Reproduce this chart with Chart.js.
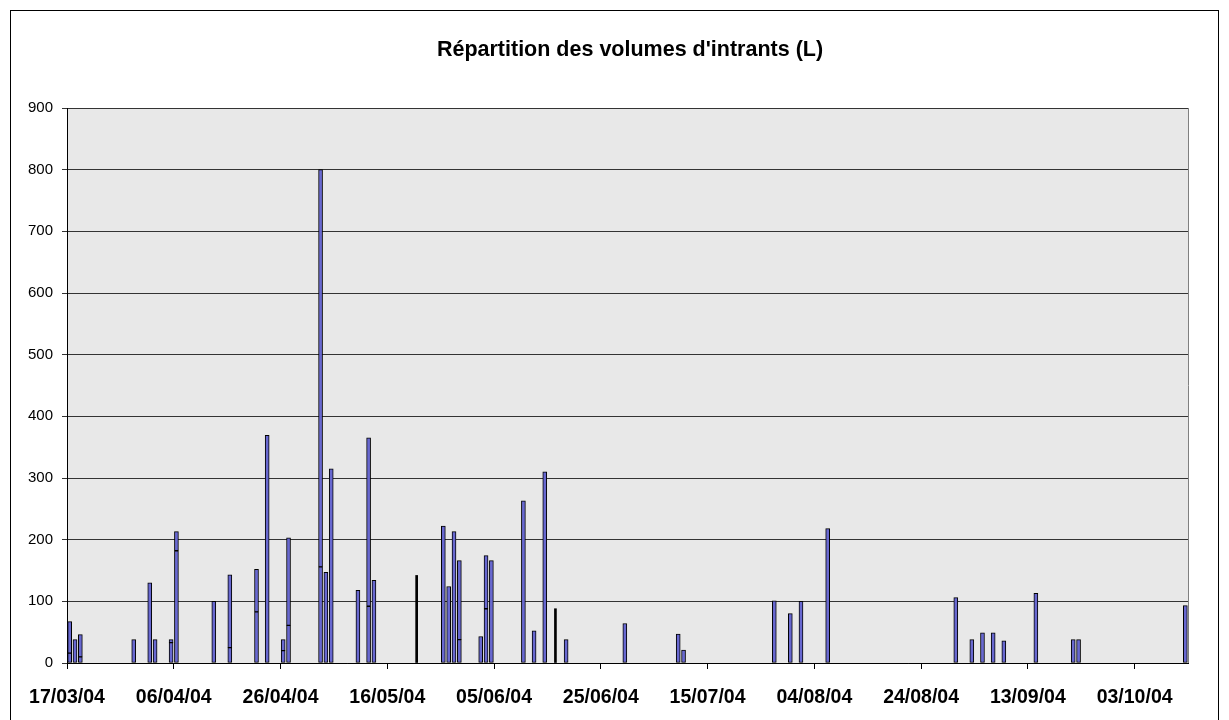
<!DOCTYPE html>
<html>
<head>
<meta charset="utf-8">
<script src="https://cdn.jsdelivr.net/npm/chart.js@4/dist/chart.umd.min.js"></script>
<style>
  body { margin: 0; background: #fff; }
</style>
</head>
<body>
<canvas id="chart" width="1229" height="720"></canvas>
<script>
'use strict';

// dates of each input (dd/mm/yy)
const dates = [
  '17/03/04', '18/03/04', '19/03/04', '29/03/04', '01/04/04', '02/04/04', '05/04/04', '06/04/04',
  '13/04/04', '16/04/04', '21/04/04', '23/04/04', '26/04/04', '27/04/04', '03/05/04', '04/05/04',
  '05/05/04', '10/05/04', '12/05/04', '13/05/04', '21/05/04', '26/05/04', '27/05/04', '28/05/04',
  '29/05/04', '02/06/04', '03/06/04', '04/06/04', '10/06/04', '12/06/04', '14/06/04', '16/06/04',
  '18/06/04', '29/06/04', '09/07/04', '10/07/04', '27/07/04', '30/07/04', '01/08/04', '06/08/04',
  '30/08/04', '02/09/04', '04/09/04', '06/09/04', '08/09/04', '14/09/04', '21/09/04', '22/09/04',
  '12/10/04'
];
// total volume per date (L)
const volumes = [
  67, 38, 46, 38, 130, 38, 38, 213,
  100, 143, 152, 369, 38, 203, 800, 147,
  315, 118, 365, 134, 142, 222, 124, 213,
  166, 43, 174, 166, 263, 52, 310, 88,
  38, 64, 47, 21, 101, 80, 100, 218,
  106, 38, 49, 49, 36, 113, 38, 38,
  93
];
// first stacked part where a bar is split in two (0 = single part)
const firstParts = [
  16, 0, 10, 0, 0, 0, 33, 182,
  0, 25, 83, 0, 20, 61, 156, 0,
  0, 0, 92, 0, 0, 0, 0, 0,
  38, 0, 88, 0, 0, 0, 0, 0,
  0, 0, 0, 0, 0, 0, 0, 0,
  0, 0, 0, 0, 0, 0, 0, 0,
  0
];
// bars drawn as thin dark lines in the original
const darkDates = ['21/05/04', '16/06/04'];

const tickLabels = ['17/03/04', '06/04/04', '26/04/04', '16/05/04', '05/06/04', '25/06/04',
  '15/07/04', '04/08/04', '24/08/04', '13/09/04', '03/10/04'];

const startDate = Date.UTC(2004, 2, 17);
function dayIndex(s) {
  const p = s.split('/').map(Number);
  return Math.round((Date.UTC(2000 + p[2], p[1] - 1, p[0]) - startDate) / 86400000);
}

const isDark = (d) => darkDates.includes(d);

const lowerData = dates.map((d, i) => ({
  x: dayIndex(d) + 0.5,
  y: isDark(d) ? null : (firstParts[i] > 0 ? firstParts[i] : volumes[i])
}));
const upperData = dates.map((d, i) => ({
  x: dayIndex(d) + 0.5,
  y: firstParts[i] > 0 ? volumes[i] - firstParts[i] : null
}));
const darkData = dates.map((d, i) => ({
  x: dayIndex(d) + 0.5,
  y: isDark(d) ? volumes[i] : null
}));

const frame = {
  id: 'frame',
  beforeDraw(chart) {
    const c = chart.ctx, a = chart.chartArea;
    c.save();
    c.fillStyle = '#fff';
    c.fillRect(0, 0, chart.width, chart.height);
    c.strokeStyle = '#000';
    c.lineWidth = 1;
    c.strokeRect(10.5, 10.5, 1208, 730);
    c.fillStyle = '#e8e8e8';
    c.fillRect(a.left, a.top, a.right - a.left, a.bottom - a.top);
    c.strokeStyle = '#808080';
    c.beginPath();
    c.moveTo(a.right + 0.5, a.top);
    c.lineTo(a.right + 0.5, a.bottom);
    c.stroke();
    c.fillStyle = '#000';
    c.font = 'bold 21.5px "Liberation Sans", Arial, sans-serif';
    c.textAlign = 'center';
    c.textBaseline = 'middle';
    c.fillText("Répartition des volumes d'intrants (L)", 630, 50);
    c.restore();
  }
};

const barStyle = {
  backgroundColor: '#6868d0',
  borderColor: '#000',
  borderWidth: 1,
  borderSkipped: false,
  barThickness: 4
};

new Chart(document.getElementById('chart'), {
  type: 'bar',
  data: {
    datasets: [
      Object.assign({ label: 'volume', data: lowerData }, barStyle),
      Object.assign({ label: 'volume (suite)', data: upperData }, barStyle),
      { label: 'volume (sombre)', data: darkData, backgroundColor: '#000', borderWidth: 0, barThickness: 2 }
    ]
  },
  options: {
    responsive: false,
    devicePixelRatio: 1,
    animation: false,
    layout: { padding: { left: 10, right: 41, top: 108, bottom: 0 } },
    plugins: {
      legend: { display: false },
      title: { display: false },
      tooltip: { enabled: false }
    },
    scales: {
      x: {
        type: 'linear',
        stacked: true,
        min: 0,
        max: 210,
        offset: false,
        afterBuildTicks(scale) {
          scale.ticks = scale.ticks.filter(t => t.value % 20 === 0);
        },
        afterFit(scale) { scale.height = 57; },
        grid: { offset: false, drawOnChartArea: false, drawTicks: true, tickLength: 6, color: '#000' },
        border: { display: true, color: '#000', width: 1 },
        ticks: {
          stepSize: 20,
          autoSkip: false,
          maxRotation: 0,
          padding: 17,
          color: '#000',
          font: { family: '"Liberation Sans", Arial, sans-serif', size: 19.5, weight: 'bold' },
          callback: (v) => tickLabels[v / 20]
        }
      },
      y: {
        stacked: true,
        min: 0,
        max: 900,
        afterFit(scale) { scale.width = 57; },
        grid: { color: '#333', lineWidth: 1, tickLength: 5 },
        border: { display: true, color: '#000', width: 1 },
        ticks: {
          stepSize: 100,
          padding: 9,
          color: '#000',
          font: { family: '"Liberation Sans", Arial, sans-serif', size: 15 }
        }
      }
    }
  },
  plugins: [frame]
});
</script>
</body>
</html>
